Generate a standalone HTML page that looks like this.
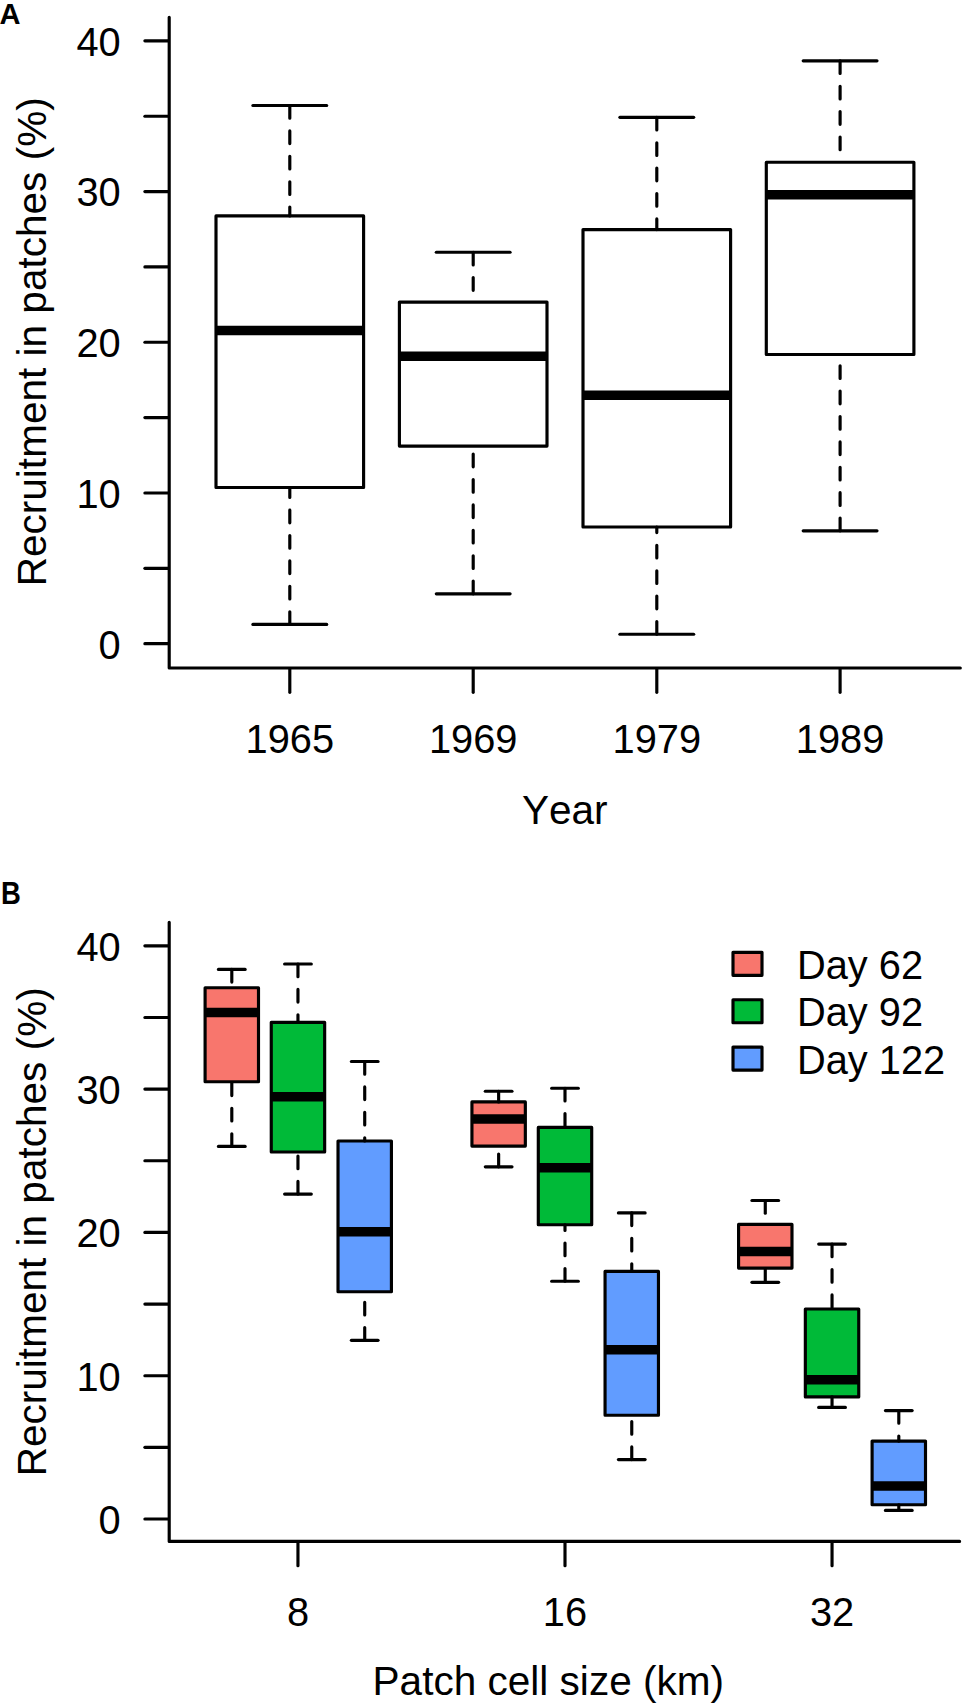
<!DOCTYPE html>
<html>
<head>
<meta charset="utf-8">
<title>Recruitment in patches</title>
<style>
html, body { margin: 0; padding: 0; background: #ffffff; }
body { width: 962px; height: 1703px; overflow: hidden; }
svg { display: block; }
svg text { font-family: "Liberation Sans", sans-serif; fill: #000; font-kerning: none; }
svg line, svg polyline, svg rect { stroke: #000; stroke-width: 3.15; stroke-linecap: round; stroke-linejoin: round; }
</style>
</head>
<body>
<svg width="962" height="1703" viewBox="0 0 962 1703">
<rect x="-5" y="-5" width="972" height="1713" fill="#ffffff" style="stroke:none"/>
<polyline points="169.2,17.2 169.2,668.0 960.3,668.0" fill="none"/>
<line x1="168.40" y1="643.65" x2="144.90" y2="643.65" />
<text x="120.75" y="658.50" font-size="39.8" text-anchor="end" >0</text>
<line x1="168.40" y1="568.30" x2="144.90" y2="568.30" />
<line x1="168.40" y1="492.95" x2="144.90" y2="492.95" />
<text x="120.75" y="507.80" font-size="39.8" text-anchor="end" >10</text>
<line x1="168.40" y1="417.60" x2="144.90" y2="417.60" />
<line x1="168.40" y1="342.25" x2="144.90" y2="342.25" />
<text x="120.75" y="357.10" font-size="39.8" text-anchor="end" >20</text>
<line x1="168.40" y1="266.90" x2="144.90" y2="266.90" />
<line x1="168.40" y1="191.55" x2="144.90" y2="191.55" />
<text x="120.75" y="206.40" font-size="39.8" text-anchor="end" >30</text>
<line x1="168.40" y1="116.20" x2="144.90" y2="116.20" />
<line x1="168.40" y1="40.85" x2="144.90" y2="40.85" />
<text x="120.75" y="55.70" font-size="39.8" text-anchor="end" >40</text>
<rect x="216.00" y="215.90" width="147.60" height="271.60" fill="#ffffff"/>
<line x1="216.00" y1="330.60" x2="363.60" y2="330.60" style="stroke-width:9.5;stroke-linecap:butt"/>
<line x1="289.80" y1="105.50" x2="289.80" y2="215.90" stroke-dasharray="12.7 12.7"/>
<line x1="289.80" y1="624.40" x2="289.80" y2="487.50" stroke-dasharray="12.7 12.7"/>
<line x1="252.90" y1="105.50" x2="326.70" y2="105.50" />
<line x1="252.90" y1="624.40" x2="326.70" y2="624.40" />
<line x1="289.80" y1="668.80" x2="289.80" y2="692.30" />
<text x="289.80" y="753.10" font-size="39.8" text-anchor="middle" >1965</text>
<rect x="399.40" y="302.10" width="147.60" height="144.00" fill="#ffffff"/>
<line x1="399.40" y1="356.20" x2="547.00" y2="356.20" style="stroke-width:9.5;stroke-linecap:butt"/>
<line x1="473.20" y1="252.20" x2="473.20" y2="302.10" stroke-dasharray="12.7 12.7"/>
<line x1="473.20" y1="593.80" x2="473.20" y2="446.10" stroke-dasharray="12.7 12.7"/>
<line x1="436.30" y1="252.20" x2="510.10" y2="252.20" />
<line x1="436.30" y1="593.80" x2="510.10" y2="593.80" />
<line x1="473.20" y1="668.80" x2="473.20" y2="692.30" />
<text x="473.20" y="753.10" font-size="39.8" text-anchor="middle" >1969</text>
<rect x="583.00" y="229.60" width="147.60" height="297.40" fill="#ffffff"/>
<line x1="583.00" y1="395.30" x2="730.60" y2="395.30" style="stroke-width:9.5;stroke-linecap:butt"/>
<line x1="656.80" y1="117.30" x2="656.80" y2="229.60" stroke-dasharray="12.7 12.7"/>
<line x1="656.80" y1="634.20" x2="656.80" y2="527.00" stroke-dasharray="12.7 12.7"/>
<line x1="619.90" y1="117.30" x2="693.70" y2="117.30" />
<line x1="619.90" y1="634.20" x2="693.70" y2="634.20" />
<line x1="656.80" y1="668.80" x2="656.80" y2="692.30" />
<text x="656.80" y="753.10" font-size="39.8" text-anchor="middle" >1979</text>
<rect x="766.30" y="162.20" width="147.60" height="192.30" fill="#ffffff"/>
<line x1="766.30" y1="194.70" x2="913.90" y2="194.70" style="stroke-width:9.5;stroke-linecap:butt"/>
<line x1="840.10" y1="60.80" x2="840.10" y2="162.20" stroke-dasharray="12.7 12.7"/>
<line x1="840.10" y1="530.80" x2="840.10" y2="354.50" stroke-dasharray="12.7 12.7"/>
<line x1="803.20" y1="60.80" x2="877.00" y2="60.80" />
<line x1="803.20" y1="530.80" x2="877.00" y2="530.80" />
<line x1="840.10" y1="668.80" x2="840.10" y2="692.30" />
<text x="840.10" y="753.10" font-size="39.8" text-anchor="middle" >1989</text>
<text x="564.80" y="824.40" font-size="40.55" text-anchor="middle" >Year</text>
<text transform="translate(45.6,341.8) rotate(-90)" font-size="40.55" text-anchor="middle">Recruitment in patches (%)</text>
<text transform="translate(-0.4,24) scale(0.97,1)" font-size="30" font-weight="bold">A</text>
<polyline points="169.2,922.3 169.2,1541.4 959.6,1541.4" fill="none"/>
<line x1="168.40" y1="1519.00" x2="144.90" y2="1519.00" />
<text x="120.75" y="1533.85" font-size="39.8" text-anchor="end" >0</text>
<line x1="168.40" y1="1447.35" x2="144.90" y2="1447.35" />
<line x1="168.40" y1="1375.70" x2="144.90" y2="1375.70" />
<text x="120.75" y="1390.55" font-size="39.8" text-anchor="end" >10</text>
<line x1="168.40" y1="1304.05" x2="144.90" y2="1304.05" />
<line x1="168.40" y1="1232.40" x2="144.90" y2="1232.40" />
<text x="120.75" y="1247.25" font-size="39.8" text-anchor="end" >20</text>
<line x1="168.40" y1="1160.75" x2="144.90" y2="1160.75" />
<line x1="168.40" y1="1089.10" x2="144.90" y2="1089.10" />
<text x="120.75" y="1103.95" font-size="39.8" text-anchor="end" >30</text>
<line x1="168.40" y1="1017.45" x2="144.90" y2="1017.45" />
<line x1="168.40" y1="945.80" x2="144.90" y2="945.80" />
<text x="120.75" y="960.65" font-size="39.8" text-anchor="end" >40</text>
<rect x="205.10" y="987.70" width="53.40" height="94.00" fill="#F8766D"/>
<line x1="205.10" y1="1012.60" x2="258.50" y2="1012.60" style="stroke-width:9.5;stroke-linecap:butt"/>
<line x1="231.80" y1="969.40" x2="231.80" y2="987.70" stroke-dasharray="12.7 12.7"/>
<line x1="231.80" y1="1146.40" x2="231.80" y2="1081.70" stroke-dasharray="12.7 12.7"/>
<line x1="218.45" y1="969.40" x2="245.15" y2="969.40" />
<line x1="218.45" y1="1146.40" x2="245.15" y2="1146.40" />
<rect x="271.26" y="1022.30" width="53.40" height="129.70" fill="#00BA38"/>
<line x1="271.26" y1="1096.70" x2="324.66" y2="1096.70" style="stroke-width:9.5;stroke-linecap:butt"/>
<line x1="297.96" y1="964.00" x2="297.96" y2="1022.30" stroke-dasharray="12.7 12.7"/>
<line x1="297.96" y1="1194.10" x2="297.96" y2="1152.00" stroke-dasharray="12.7 12.7"/>
<line x1="284.61" y1="964.00" x2="311.31" y2="964.00" />
<line x1="284.61" y1="1194.10" x2="311.31" y2="1194.10" />
<rect x="338.02" y="1141.00" width="53.40" height="150.70" fill="#619CFF"/>
<line x1="338.02" y1="1231.80" x2="391.42" y2="1231.80" style="stroke-width:9.5;stroke-linecap:butt"/>
<line x1="364.72" y1="1061.50" x2="364.72" y2="1141.00" stroke-dasharray="12.7 12.7"/>
<line x1="364.72" y1="1340.30" x2="364.72" y2="1291.70" stroke-dasharray="12.7 12.7"/>
<line x1="351.37" y1="1061.50" x2="378.07" y2="1061.50" />
<line x1="351.37" y1="1340.30" x2="378.07" y2="1340.30" />
<rect x="471.94" y="1101.90" width="53.40" height="44.20" fill="#F8766D"/>
<line x1="471.94" y1="1119.10" x2="525.34" y2="1119.10" style="stroke-width:9.5;stroke-linecap:butt"/>
<line x1="498.64" y1="1091.20" x2="498.64" y2="1101.90" stroke-dasharray="12.7 12.7"/>
<line x1="498.64" y1="1166.80" x2="498.64" y2="1146.10" stroke-dasharray="12.7 12.7"/>
<line x1="485.29" y1="1091.20" x2="511.99" y2="1091.20" />
<line x1="485.29" y1="1166.80" x2="511.99" y2="1166.80" />
<rect x="538.30" y="1127.40" width="53.40" height="97.30" fill="#00BA38"/>
<line x1="538.30" y1="1167.80" x2="591.70" y2="1167.80" style="stroke-width:9.5;stroke-linecap:butt"/>
<line x1="565.00" y1="1088.20" x2="565.00" y2="1127.40" stroke-dasharray="12.7 12.7"/>
<line x1="565.00" y1="1281.20" x2="565.00" y2="1224.70" stroke-dasharray="12.7 12.7"/>
<line x1="551.65" y1="1088.20" x2="578.35" y2="1088.20" />
<line x1="551.65" y1="1281.20" x2="578.35" y2="1281.20" />
<rect x="605.06" y="1271.40" width="53.40" height="143.80" fill="#619CFF"/>
<line x1="605.06" y1="1349.80" x2="658.46" y2="1349.80" style="stroke-width:9.5;stroke-linecap:butt"/>
<line x1="631.76" y1="1212.90" x2="631.76" y2="1271.40" stroke-dasharray="12.7 12.7"/>
<line x1="631.76" y1="1459.60" x2="631.76" y2="1415.20" stroke-dasharray="12.7 12.7"/>
<line x1="618.41" y1="1212.90" x2="645.11" y2="1212.90" />
<line x1="618.41" y1="1459.60" x2="645.11" y2="1459.60" />
<rect x="738.58" y="1224.40" width="53.40" height="43.70" fill="#F8766D"/>
<line x1="738.58" y1="1251.60" x2="791.98" y2="1251.60" style="stroke-width:9.5;stroke-linecap:butt"/>
<line x1="765.28" y1="1200.50" x2="765.28" y2="1224.40" stroke-dasharray="12.7 12.7"/>
<line x1="765.28" y1="1282.30" x2="765.28" y2="1268.10" stroke-dasharray="12.7 12.7"/>
<line x1="751.93" y1="1200.50" x2="778.63" y2="1200.50" />
<line x1="751.93" y1="1282.30" x2="778.63" y2="1282.30" />
<rect x="805.34" y="1309.00" width="53.40" height="87.90" fill="#00BA38"/>
<line x1="805.34" y1="1379.80" x2="858.74" y2="1379.80" style="stroke-width:9.5;stroke-linecap:butt"/>
<line x1="832.04" y1="1244.10" x2="832.04" y2="1309.00" stroke-dasharray="12.7 12.7"/>
<line x1="832.04" y1="1407.40" x2="832.04" y2="1396.90" stroke-dasharray="12.7 12.7"/>
<line x1="818.69" y1="1244.10" x2="845.39" y2="1244.10" />
<line x1="818.69" y1="1407.40" x2="845.39" y2="1407.40" />
<rect x="872.10" y="1441.10" width="53.40" height="63.60" fill="#619CFF"/>
<line x1="872.10" y1="1486.00" x2="925.50" y2="1486.00" style="stroke-width:9.5;stroke-linecap:butt"/>
<line x1="898.80" y1="1410.60" x2="898.80" y2="1441.10" stroke-dasharray="12.7 12.7"/>
<line x1="898.80" y1="1510.40" x2="898.80" y2="1504.70" stroke-dasharray="12.7 12.7"/>
<line x1="885.45" y1="1410.60" x2="912.15" y2="1410.60" />
<line x1="885.45" y1="1510.40" x2="912.15" y2="1510.40" />
<line x1="297.96" y1="1542.20" x2="297.96" y2="1565.70" />
<text x="297.96" y="1626.10" font-size="39.8" text-anchor="middle" >8</text>
<line x1="565.00" y1="1542.20" x2="565.00" y2="1565.70" />
<text x="565.00" y="1626.10" font-size="39.8" text-anchor="middle" >16</text>
<line x1="832.04" y1="1542.20" x2="832.04" y2="1565.70" />
<text x="832.04" y="1626.10" font-size="39.8" text-anchor="middle" >32</text>
<text x="548.30" y="1694.50" font-size="40.55" text-anchor="middle" >Patch cell size (km)</text>
<text transform="translate(45.6,1231.8) rotate(-90)" font-size="40.55" text-anchor="middle">Recruitment in patches (%)</text>
<text transform="translate(1.0,904) scale(0.90,1)" font-size="30.5" font-weight="bold">B</text>
<rect x="733.0" y="952.30" width="29.0" height="23.0" fill="#F8766D"/>
<text x="797.00" y="979.00" font-size="39.8" text-anchor="start" >Day 62</text>
<rect x="733.0" y="999.70" width="29.0" height="23.0" fill="#00BA38"/>
<text x="797.00" y="1026.40" font-size="39.8" text-anchor="start" >Day 92</text>
<rect x="733.0" y="1047.10" width="29.0" height="23.0" fill="#619CFF"/>
<text x="797.00" y="1073.80" font-size="39.8" text-anchor="start" >Day 122</text>
</svg>
</body>
</html>
